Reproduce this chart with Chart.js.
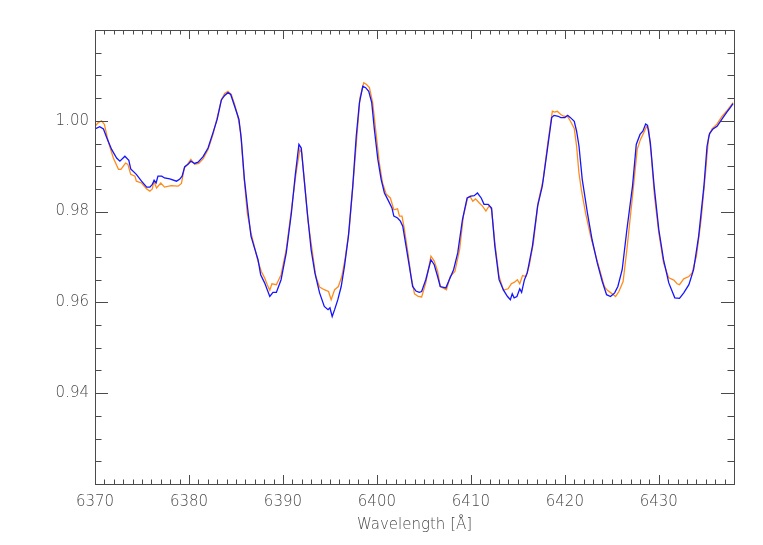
<!DOCTYPE html>
<html>
<head>
<meta charset="utf-8">
<script src="https://cdn.jsdelivr.net/npm/chart.js@4.4.1/dist/chart.umd.min.js"></script>
<style>
  html, body { margin: 0; padding: 0; background: #fff; }
  #wrap { width: 763px; height: 545px; }
</style>
</head>
<body>
<div id="wrap"><canvas id="spectrum" width="763" height="545"></canvas></div>
<script>
// orange spectrum
const orangeWave = [6370.0, 6370.35, 6370.7, 6371.0, 6371.4, 6371.95, 6372.5, 6372.76, 6373.25, 6373.5,
  6373.8, 6374.25, 6374.4, 6374.95, 6375.5, 6375.84, 6376.1, 6376.26, 6376.55, 6377.0,
  6377.4, 6378.1, 6378.85, 6379.2, 6379.5, 6379.84, 6380.2, 6380.6, 6381.04, 6381.5,
  6382.03, 6382.56, 6383.0, 6383.45, 6383.8, 6384.15, 6384.5, 6384.86, 6385.2, 6385.5,
  6385.85, 6386.2, 6386.6, 6387.0, 6387.35, 6387.7, 6388.05, 6388.33, 6388.6, 6388.83,
  6389.3, 6389.8, 6390.35, 6390.9, 6391.4, 6391.8, 6392.0, 6392.3, 6392.65, 6393.1,
  6393.5, 6393.9, 6394.4, 6394.85, 6395.13, 6395.5, 6395.9, 6396.26, 6396.6, 6397.05,
  6397.5, 6397.9, 6398.2, 6398.6, 6398.9, 6399.2, 6399.55, 6399.9, 6400.26, 6400.6,
  6401.0, 6401.43, 6401.8, 6402.2, 6402.4, 6402.67, 6402.9, 6403.3, 6403.64, 6404.0,
  6404.4, 6404.76, 6405.2, 6405.75, 6406.1, 6406.46, 6406.74, 6407.4, 6407.8, 6408.3,
  6408.8, 6409.2, 6409.65, 6409.9, 6410.2, 6410.5, 6410.9, 6411.24, 6411.6, 6411.95,
  6412.2, 6412.55, 6413.0, 6413.47, 6413.96, 6414.3, 6414.6, 6414.95, 6415.2, 6415.5,
  6415.84, 6416.2, 6416.65, 6417.15, 6417.7, 6418.14, 6418.67, 6418.9, 6419.2, 6419.56,
  6419.9, 6420.3, 6420.6, 6421.0, 6421.25, 6421.5, 6421.75, 6422.2, 6422.74, 6423.3,
  6423.8, 6424.2, 6424.5, 6424.9, 6425.4, 6425.75, 6426.2, 6426.6, 6427.2, 6427.7,
  6428.05, 6428.4, 6428.7, 6428.93, 6429.2, 6429.54, 6430.0, 6430.5, 6431.06, 6431.6,
  6431.94, 6432.2, 6432.65, 6433.2, 6433.54, 6434.0, 6434.5, 6435.0, 6435.3, 6435.66,
  6436.2, 6436.7, 6437.2, 6437.6, 6437.9];
const orangeFlux = [0.9988, 0.9996, 1.0000, 0.9992, 0.9955, 0.9918, 0.9893, 0.9893, 0.9907, 0.9904,
  0.9882, 0.9878, 0.9867, 0.9863, 0.9850, 0.9845, 0.9850, 0.9867, 0.9852, 0.9863,
  0.9854, 0.9857, 0.9856, 0.9862, 0.9896, 0.9904, 0.9915, 0.9904, 0.9906, 0.9916,
  0.9937, 0.9970, 1.0007, 1.0047, 1.0060, 1.0065, 1.0058, 1.0036, 1.0010, 0.9974,
  0.9878, 0.9797, 0.9753, 0.9720, 0.9690, 0.9668, 0.9654, 0.9639, 0.9627, 0.9641,
  0.9639, 0.9661, 0.9716, 0.9804, 0.9885, 0.9937, 0.9929, 0.9863, 0.9782, 0.9716,
  0.9657, 0.9634, 0.9628, 0.9624, 0.9606, 0.9628, 0.9635, 0.9657, 0.9694, 0.9760,
  0.9871, 0.9974, 1.0051, 1.0084, 1.0080, 1.0073, 1.0040, 0.9974, 0.9907, 0.9863,
  0.9838, 0.9830, 0.9804, 0.9806, 0.9790, 0.9790, 0.9764, 0.9709, 0.9657, 0.9619,
  0.9613, 0.9612, 0.9643, 0.9702, 0.9691, 0.9669, 0.9635, 0.9628, 0.9657, 0.9668,
  0.9716, 0.9790, 0.9830, 0.9834, 0.9823, 0.9828, 0.9819, 0.9812, 0.9801, 0.9813,
  0.9804, 0.9731, 0.9657, 0.9627, 0.9630, 0.9641, 0.9644, 0.9650, 0.9641, 0.9659,
  0.9657, 0.9680, 0.9731, 0.9819, 0.9871, 0.9944, 1.0021, 1.0019, 1.0021, 1.0014,
  1.0010, 1.0009, 0.9999, 0.9983, 0.9944, 0.9885, 0.9849, 0.9797, 0.9746, 0.9702,
  0.9665, 0.9635, 0.9627, 0.9621, 0.9613, 0.9624, 0.9646, 0.9716, 0.9834, 0.9937,
  0.9959, 0.9974, 0.9988, 0.9981, 0.9922, 0.9834, 0.9753, 0.9687, 0.9654, 0.9649,
  0.9641, 0.9639, 0.9652, 0.9657, 0.9665, 0.9702, 0.9782, 0.9893, 0.9966, 0.9982,
  0.9993, 1.0009, 1.0021, 1.0032, 1.0040];

// blue spectrum
const blueWave = [6370.0, 6370.5, 6370.9, 6371.24, 6371.77, 6372.3, 6372.65, 6373.18, 6373.6, 6373.8,
  6374.4, 6374.95, 6375.5, 6375.84, 6376.1, 6376.3, 6376.5, 6376.7, 6377.1, 6377.4,
  6377.96, 6378.67, 6379.0, 6379.27, 6379.55, 6379.9, 6380.2, 6380.6, 6380.97, 6381.5,
  6382.03, 6382.56, 6383.0, 6383.45, 6383.8, 6384.15, 6384.44, 6384.86, 6385.32, 6385.57,
  6385.9, 6386.3, 6386.6, 6387.0, 6387.35, 6387.63, 6388.05, 6388.6, 6388.94, 6389.3,
  6389.8, 6390.35, 6390.9, 6391.3, 6391.7, 6391.95, 6392.23, 6392.6, 6393.0, 6393.4,
  6393.9, 6394.4, 6394.8, 6395.0, 6395.24, 6395.5, 6395.84, 6396.2, 6396.55, 6396.97,
  6397.43, 6397.8, 6398.14, 6398.5, 6398.8, 6399.13, 6399.45, 6399.73, 6400.1, 6400.45,
  6400.8, 6401.15, 6401.6, 6401.8, 6402.2, 6402.5, 6402.75, 6403.1, 6403.45, 6403.8,
  6404.16, 6404.5, 6404.76, 6405.2, 6405.75, 6406.1, 6406.46, 6406.74, 6407.34, 6407.7,
  6408.16, 6408.6, 6409.1, 6409.6, 6410.0, 6410.35, 6410.7, 6411.1, 6411.4, 6411.84,
  6412.2, 6412.55, 6413.0, 6413.47, 6413.9, 6414.2, 6414.4, 6414.6, 6414.9, 6415.2,
  6415.4, 6415.7, 6416.0, 6416.55, 6417.1, 6417.6, 6418.14, 6418.6, 6418.85, 6419.3,
  6419.56, 6420.0, 6420.3, 6420.6, 6421.0, 6421.25, 6421.5, 6421.85, 6422.4, 6422.9,
  6423.45, 6423.98, 6424.44, 6424.86, 6425.3, 6425.64, 6426.1, 6426.6, 6427.2, 6427.6,
  6428.0, 6428.3, 6428.6, 6428.8, 6429.1, 6429.5, 6430.0, 6430.5, 6431.06, 6431.7,
  6432.2, 6432.65, 6433.2, 6433.7, 6434.24, 6434.8, 6435.13, 6435.4, 6435.77, 6436.2,
  6436.7, 6437.2, 6437.6, 6437.9];
const blueFlux = [0.9982, 0.9987, 0.9982, 0.9963, 0.9937, 0.9918, 0.9911, 0.9922, 0.9913, 0.9894,
  0.9882, 0.9867, 0.9854, 0.9854, 0.9860, 0.9869, 0.9863, 0.9878, 0.9878, 0.9874,
  0.9872, 0.9867, 0.9871, 0.9878, 0.9899, 0.9904, 0.9911, 0.9906, 0.9909, 0.9921,
  0.9940, 0.9974, 1.0003, 1.0046, 1.0056, 1.0062, 1.0058, 1.0032, 1.0003, 0.9959,
  0.9871, 0.9797, 0.9746, 0.9718, 0.9694, 0.9661, 0.9643, 0.9613, 0.9622, 0.9622,
  0.9650, 0.9709, 0.9797, 0.9878, 0.9948, 0.9940, 0.9878, 0.9797, 0.9716, 0.9665,
  0.9621, 0.9591, 0.9584, 0.9588, 0.9569, 0.9584, 0.9606, 0.9635, 0.9680, 0.9746,
  0.9856, 0.9966, 1.0040, 1.0076, 1.0073, 1.0065, 1.0040, 0.9981, 0.9915, 0.9871,
  0.9841, 0.9827, 0.9808, 0.9790, 0.9786, 0.9779, 0.9768, 0.9724, 0.9680, 0.9635,
  0.9625, 0.9622, 0.9624, 0.9650, 0.9694, 0.9683, 0.9657, 0.9635, 0.9632, 0.9650,
  0.9672, 0.9709, 0.9782, 0.9830, 0.9834, 0.9835, 0.9841, 0.9830, 0.9816, 0.9816,
  0.9808, 0.9724, 0.9650, 0.9627, 0.9613, 0.9606, 0.9619, 0.9610, 0.9613, 0.9630,
  0.9622, 0.9650, 0.9665, 0.9724, 0.9812, 0.9856, 0.9937, 1.0007, 1.0012, 1.0010,
  1.0007, 1.0007, 1.0012, 1.0007, 0.9999, 0.9977, 0.9945, 0.9871, 0.9797, 0.9738,
  0.9687, 0.9646, 0.9617, 0.9613, 0.9621, 0.9635, 0.9672, 0.9760, 0.9856, 0.9948,
  0.9970, 0.9977, 0.9993, 0.9990, 0.9951, 0.9856, 0.9760, 0.9694, 0.9643, 0.9610,
  0.9609, 0.9621, 0.9639, 0.9672, 0.9746, 0.9856, 0.9944, 0.9972, 0.9982, 0.9988,
  1.0003, 1.0018, 1.0029, 1.0038];

// axis ticks
const xTickValues = [6370, 6380, 6390, 6400, 6410, 6420, 6430];
const yTickValues = [0.94, 0.96, 0.98, 1.00];

const X_MIN = 6370, X_MAX = 6438;
const Y_MIN = 0.92, Y_MAX = 1.02;
const AXIS_COLOR = '#4a4a4a';
const FONT = { family: 'DejaVu Sans', size: 15, weight: 300 };

function toPoints(xs, ys) {
    return xs.map((x, i) => ({ x: x, y: ys[i] }));
}

// IDL-style frame with inward ticks on all four sides
const framePlugin = {
    id: 'frame',
    afterDatasetsDraw(chart) {
        const { ctx, chartArea: a, scales: { x, y } } = chart;
        ctx.save();
        ctx.strokeStyle = AXIS_COLOR;
        ctx.lineWidth = 1;
        ctx.strokeRect(a.left + 0.5, a.top + 0.5, a.right - a.left, a.bottom - a.top);

        ctx.beginPath();
        for (let v = X_MIN; v <= X_MAX + 1e-9; v += 1) {
            const px = Math.round(x.getPixelForValue(v)) + 0.5;
            const len = (Math.round(v) % 10 === 0) ? 9 : 4.5;
            ctx.moveTo(px, a.bottom); ctx.lineTo(px, a.bottom - len);
            ctx.moveTo(px, a.top); ctx.lineTo(px, a.top + len);
        }
        for (let k = 0; k <= 20; k++) {
            const v = Y_MIN + k * 0.005;
            const py = Math.round(y.getPixelForValue(v)) + 0.5;
            const len = (k % 4 === 0) ? 13 : 6.5;
            ctx.moveTo(a.left, py); ctx.lineTo(a.left + len, py);
            ctx.moveTo(a.right, py); ctx.lineTo(a.right - len, py);
        }
        ctx.stroke();
        ctx.restore();
    }
};

// blue first so that it is drawn on top of the orange line
new Chart(document.getElementById('spectrum'), {
    type: 'line',
    data: {
        datasets: [
            {
                data: toPoints(blueWave, blueFlux),
                borderColor: '#1414ff',
                borderWidth: 1.3,
                pointRadius: 0,
                tension: 0
            },
            {
                data: toPoints(orangeWave, orangeFlux),
                borderColor: '#ff8c1a',
                borderWidth: 1.3,
                pointRadius: 0,
                tension: 0
            }
        ]
    },
    options: {
        responsive: false,
        animation: false,
        events: [],
        layout: { padding: { left: 0, top: 30, right: 29, bottom: 0 } },
        plugins: {
            legend: { display: false },
            tooltip: { enabled: false }
        },
        scales: {
            x: {
                type: 'linear',
                min: X_MIN,
                max: X_MAX,
                afterBuildTicks: scale => { scale.ticks = xTickValues.map(v => ({ value: v })); },
                afterFit: scale => { scale.height = 61; },
                grid: { display: false, drawTicks: false },
                border: { display: false },
                ticks: {
                    padding: 9,
                    color: AXIS_COLOR,
                    font: FONT,
                    maxRotation: 0,
                    autoSkip: false,
                    callback: v => String(v)
                },
                title: {
                    display: true,
                    text: 'Wavelength [Å]',
                    color: AXIS_COLOR,
                    font: FONT,
                    padding: { top: 0, bottom: 11 }
                }
            },
            y: {
                min: Y_MIN,
                max: Y_MAX,
                afterBuildTicks: scale => { scale.ticks = yTickValues.map(v => ({ value: v })); },
                afterFit: scale => { scale.width = 95; },
                grid: { display: false, drawTicks: false },
                border: { display: false },
                ticks: {
                    padding: 6,
                    color: AXIS_COLOR,
                    font: FONT,
                    autoSkip: false,
                    callback: v => v.toFixed(2)
                }
            }
        }
    },
    plugins: [framePlugin]
});
</script>
</body>
</html>
